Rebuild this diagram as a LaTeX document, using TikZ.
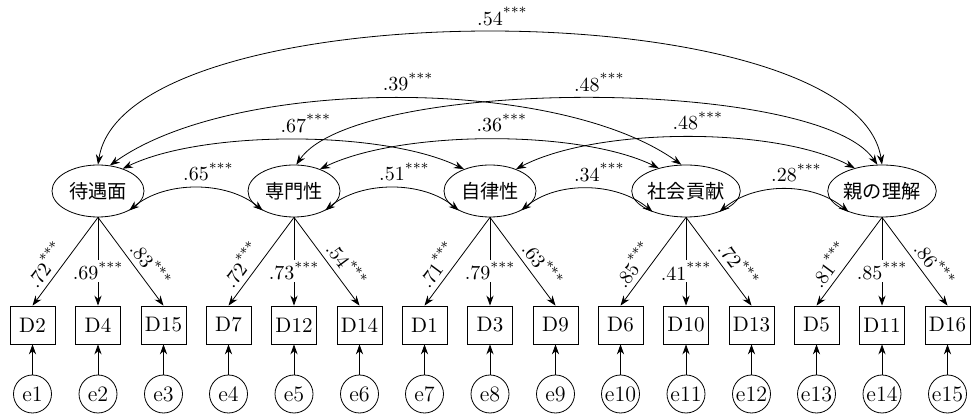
\documentclass[tikz,border=0pt]{standalone}
\usepackage{fontspec}
\newfontfamily\jpfont{Noto Sans CJK JP}
\usetikzlibrary{positioning, shapes.geometric, arrows.meta}

% coefficient with stars
\newcommand{\sig}[1]{#1\textsuperscript{***}}
\newcommand{\sigc}[1]{#1\rlap{\textsuperscript{***}}}

\begin{document}
\begin{tikzpicture}[
	% one unit is one pixel of the reference
	x=0.5pt, y=-0.5pt,
	>={Stealth[length=5pt, width=3.6pt]},
	% Style for the latent factors
	latent/.style={
		ellipse,
		draw=black,
		minimum width=46pt,
		minimum height=26pt,
		inner sep=0pt,
		font=\jpfont\fontsize{9.6}{11}\selectfont
	},
	% Style for the observed items
	item/.style={
		rectangle,
		draw=black,
		minimum width=22.5pt,
		minimum height=19pt,
		inner sep=0pt,
		font=\fontsize{10.5}{12}\selectfont
	},
	% Style for the error terms
	err/.style={
		circle,
		draw=black,
		minimum size=19pt,
		inner sep=0pt,
		font=\fontsize{11}{13}\selectfont
	},
	load/.style={
		sloped,
		above=1.5pt,
		pos=0.63,
		inner sep=1pt
	},
	coef/.style={
		fill=white,
		inner sep=1pt,
		pos=0.61
	}
	]
	\useasboundingbox (0,0) rectangle (972,415);
	
	% latent factors
	\node[latent] (TG) at (98,191) {待遇面};
	\node[latent] (SM) at (294,191) {専門性};
	\node[latent] (JR) at (490,191) {自律性};
	\node[latent] (SK) at (686,191) {社会貢献};
	\node[latent] (OR) at (882,191) {親の理解};
	
	% items, errors and loadings
	\foreach \lat/\x/\da/\db/\dc/\la/\lb/\lc [count=\g from 0] in {
		TG/98/2/4/15/.72/.69/.83,
		SM/294/7/12/14/.72/.73/.54,
		JR/490/1/3/9/.71/.79/.63,
		SK/686/6/10/13/.85/.41/.72,
		OR/882/5/11/16/.81/.85/.86}{
		\foreach \dn/\dx/\nn in {\da/-65.5/1, \db/0/2, \dc/65.5/3}{
			\pgfmathtruncatemacro{\en}{3*\g+\nn}
			\pgfmathsetmacro{\xx}{\x+\dx}
			\node[item] (D\dn) at (\xx,325) {D\dn};
			\node[err] (e\en) at (\xx,394) {e\en};
			\draw[->] (e\en) -- (D\dn);
		}
		\draw[->] (\lat.south) -- node[load] {\sig{\la}} (D\da.north);
		\draw[->] (\lat.south) -- node[coef] {\sig{\lb}} (D\db.north);
		\draw[->] (\lat.south) -- node[load] {\sig{\lc}} (D\dc.north);
	}
	
	% neighbouring correlations
	\draw[<->] (TG.-32) .. controls +(36,-30) and +(-36,-30) .. node[above] {\sigc{.65}} (SM.-148);
	\draw[<->] (SM.-32) .. controls +(36,-30) and +(-36,-30) .. node[above] {\sigc{.51}} (JR.-148);
	\draw[<->] (JR.-32) .. controls +(36,-30) and +(-36,-30) .. node[above] {\sigc{.34}} (SK.-148);
	\draw[<->] (SK.-32) .. controls +(36,-30) and +(-36,-30) .. node[above] {\sigc{.28}} (OR.-148);
	
	% correlations over one factor
	\draw[<->] (TG.42) .. controls +(80,-39) and +(-80,-39) .. node[above] {\sigc{.67}} (JR.140);
	\draw[<->] (SM.40) .. controls +(80,-39) and +(-80,-39) .. node[above] {\sigc{.36}} (SK.140);
	\draw[<->] (JR.40) .. controls +(80,-42) and +(-80,-42) .. node[above] {\sigc{.48}} (OR.140);
	
	% long correlations
	\draw[<->] (TG.65) .. controls +(124,-89) and +(-124,-89) .. node[above] {\sigc{.39}} (SK.100);
	\draw[<->] (SM.85) .. controls +(60,-88) and +(-60,-88) .. node[above] {\sigc{.48}} (OR.100);
	\draw[<->] (TG.90) .. controls +(27,-176) and +(-27,-176) .. node[above] {\sigc{.54}} (OR.90);
	
\end{tikzpicture}
\end{document}
